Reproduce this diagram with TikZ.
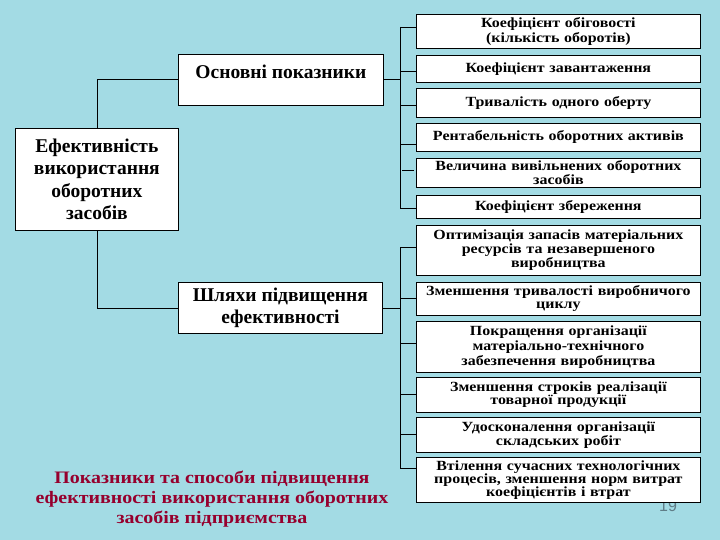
\documentclass[tikz,border=0pt]{standalone}
\usepackage{fontspec}
\setmainfont{Liberation Serif}
\setsansfont{Liberation Sans}
\newfontfamily\wideserif[FakeStretch=1.14]{Liberation Serif}
\definecolor{aqua}{RGB}{163,219,228}
\definecolor{titlered}{RGB}{150,0,45}
\definecolor{pagegray}{RGB}{95,125,135}

\begin{document}
\begin{tikzpicture}[x=1pt,y=-1pt,
    box/.style={draw,fill=white,line width=0.8pt,inner sep=0pt,anchor=north west,align=center},
    item/.style={box,minimum width=284pt,text width=282pt,font=\wideserif\bfseries\fontsize{14}{13}\selectfont},
    head/.style={box,font=\bfseries\fontsize{19.5}{22.5}\selectfont},
    link/.style={line width=0.8pt}]
  \fill[aqua] (0,0) rectangle (720,540);
  \useasboundingbox (0,0) rectangle (720,540);
  % page number, half hidden by the last box
  \node[font=\sffamily\fontsize{16}{16}\selectfont,text=pagegray,anchor=base] (pg) at (668,511) {19};
  % main blocks
  \node[head,minimum width=205pt,text height=24pt,text depth=27pt] (osn) at (178,54) {Основні показники};
  \node[head,minimum width=163pt,minimum height=102pt] (efekt) at (15,128)
    {Ефективність\\використання\\оборотних\\засобів};
  \node[head,minimum width=204pt,minimum height=51pt] (shl) at (178,282)
    {Шляхи підвищення\\ефективності};
  % indicators
  \node[item,minimum height=34pt,font=\wideserif\bfseries\fontsize{14}{15}\selectfont] (k1) at (416,14)
    {Коефіцієнт обіговості\\(кількість оборотів)};
  \node[item,minimum height=27pt] (k2) at (416,55) {Коефіцієнт завантаження};
  \node[item,minimum height=29pt] (k3) at (416,88) {Тривалість одного оберту};
  \node[item,minimum height=28pt] (k4) at (416,123) {Рентабельність оборотних активів};
  \node[item,minimum height=29pt] (k5) at (416,158) {Величина вивільнених оборотних\\засобів};
  \node[item,minimum height=23pt] (k6) at (416,195) {Коефіцієнт збереження};
  % ways
  \node[item,minimum height=50pt,font=\wideserif\bfseries\fontsize{14}{11.5}\selectfont] (w1) at (416,225)
    {Оптимізація запасів матеріальних\\ресурсів та незавершеного\\виробництва};
  \node[item,minimum height=33pt] (w2) at (416,282) {Зменшення тривалості виробничого\\циклу};
  \node[item,minimum height=51pt,font=\wideserif\bfseries\fontsize{14}{15}\selectfont] (w3) at (416,321)
    {Покращення організації\\матеріально-технічного\\забезпечення виробництва};
  \node[item,minimum height=35pt] (w4) at (416,377) {Зменшення строків реалізації\\товарної продукції};
  \node[item,minimum height=35pt] (w5) at (416,417) {Удосконалення організації\\складських робіт};
  \node[item,minimum height=45pt] (w6) at (416,457)
    {Втілення сучасних технологічних\\процесів, зменшення норм витрат\\коефіцієнтів і втрат};
  % connectors
  \coordinate (aTop) at (400,27);
  \coordinate (aBot) at (400,208);
  \coordinate (bTop) at (400,247);
  \coordinate (bBot) at (400,468);
  \draw[link] (osn.west) -| (efekt.north);
  \draw[link] (efekt.south) |- (shl.west);
  \draw[link] (osn.east) -- (osn.east -| aTop);
  \draw[link] (shl.east) -- (shl.east -| bTop);
  \draw[link] (aTop) -- (aBot);
  \draw[link] (bTop) -- (bBot);
  \foreach \X/\Y in {1/27,2/71,3/105,4/144,6/208}
    \draw[link] (aTop |- 0,\Y) -- (k\X.west |- 0,\Y);
  \draw[link,shorten <=2pt,shorten >=2pt] (aTop |- 0,170) -- (k5.west |- 0,170);
  \foreach \X/\Y in {1/247,2/298,3/343,4/394,5/434,6/468}
    \draw[link] (bTop |- 0,\Y) -- (w\X.west |- 0,\Y);
  % title
  \node[font=\wideserif\bfseries\fontsize{17.5}{20}\selectfont,text=titlered,align=center] (title) at (212,499)
    {Показники та способи підвищення\\ефективності використання оборотних\\засобів підприємства};
\end{tikzpicture}
\end{document}
